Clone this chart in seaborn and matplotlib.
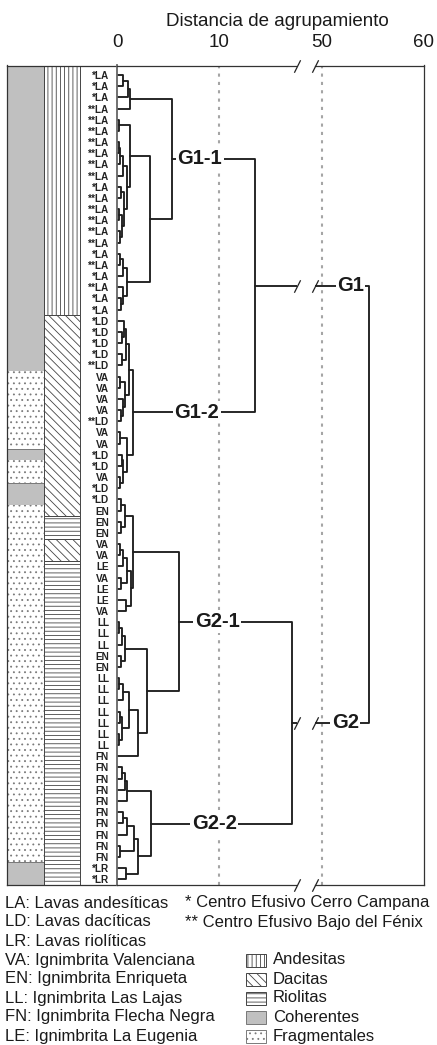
import matplotlib.pyplot as plt
import matplotlib.transforms as mtransforms
from matplotlib.patches import Rectangle
import pandas as pd
import seaborn as sns

# leaves, top to bottom
leaf_labels = ['*LA', '*LA', '*LA', '**LA', '**LA', '**LA', '**LA', '**LA', '**LA', '**LA',
               '*LA', '**LA', '**LA', '**LA', '**LA', '**LA', '*LA', '**LA', '*LA', '**LA',
               '*LA', '*LA', '*LD', '*LD', '*LD', '*LD', '**LD', 'VA', 'VA', 'VA',
               'VA', '**LD', 'VA', 'VA', '*LD', '*LD', 'VA', '*LD', '*LD', 'EN',
               'EN', 'EN', 'VA', 'VA', 'LE', 'VA', 'LE', 'LE', 'VA', 'LL',
               'LL', 'LL', 'EN', 'EN', 'LL', 'LL', 'LL', 'LL', 'LL', 'LL',
               'LL', 'FN', 'FN', 'FN', 'FN', 'FN', 'FN', 'FN', 'FN', 'FN',
               'FN', '*LR', '*LR']

# clusters as (first leaf, last leaf, distance)
clusters = [
    (0, 1, 0.6), (0, 2, 1.05), (0, 3, 1.27),
    (4, 5, 0.2), (6, 7, 0.15), (6, 8, 0.3), (6, 9, 0.6), (10, 11, 0.35), (12, 13, 0.2),
    (14, 15, 0.25), (12, 15, 0.45), (10, 15, 0.7), (6, 15, 0.95), (4, 15, 1.25),
    (16, 17, 0.3), (16, 18, 0.55), (20, 21, 0.4), (19, 21, 0.6), (16, 21, 0.95),
    (4, 21, 3.24), (0, 21, 5.35),
    (23, 24, 0.45), (22, 24, 0.7), (25, 26, 0.5), (22, 26, 0.9), (27, 28, 0.3),
    (30, 31, 0.35), (29, 31, 0.55), (27, 31, 0.75), (22, 31, 1.15),
    (32, 33, 0.3), (34, 35, 0.45), (36, 37, 0.3), (34, 37, 0.6), (32, 37, 0.92),
    (22, 37, 1.5),
    (0, 37, 13.5),
    (38, 39, 0.4), (40, 41, 0.35), (38, 41, 0.75), (42, 43, 0.25), (42, 44, 0.55),
    (45, 46, 0.4), (42, 46, 1.0), (47, 48, 0.85), (42, 48, 1.35), (38, 48, 1.57),
    (49, 50, 0.2), (49, 51, 0.45), (52, 53, 0.35), (49, 53, 0.8),
    (54, 55, 0.15), (54, 56, 0.55), (57, 58, 0.3), (59, 60, 0.15), (57, 60, 0.5),
    (54, 60, 1.15), (54, 61, 2.0), (49, 61, 2.9), (38, 61, 6.05),
    (62, 63, 0.43), (62, 64, 0.75), (62, 65, 0.92), (66, 67, 0.55), (66, 68, 0.95),
    (69, 70, 0.25), (66, 70, 1.6), (71, 72, 0.9), (66, 72, 2.05), (62, 72, 3.27),
    (38, 72, 17.1),
    (0, 72, 54.6),
]

group_names = ['G1-1', 'G1-2', 'G2-1', 'G2-2', 'G1', 'G2']
group_nodes = [(0, 21), (22, 37), (38, 61), (62, 72), (0, 37), (38, 72)]
group_label_x = [8.1, 7.8, 9.8, 9.5, 52.8, 52.3]

deposit_runs = [(0, 26, 'Coherentes'), (27, 33, 'Fragmentales'), (34, 34, 'Coherentes'),
                (35, 36, 'Fragmentales'), (37, 38, 'Coherentes'), (39, 70, 'Fragmentales'),
                (71, 72, 'Coherentes')]
litho_runs = [(0, 21, 'Andesitas'), (22, 39, 'Dacitas'), (40, 41, 'Riolitas'),
              (42, 43, 'Dacitas'), (44, 72, 'Riolitas')]

unit_legend = ['LA: Lavas andesíticas', 'LD: Lavas dacíticas', 'LR: Lavas riolíticas',
               'VA: Ignimbrita Valenciana', 'EN: Ignimbrita Enriqueta',
               'LL: Ignimbrita Las Lajas', 'FN: Ignimbrita Flecha Negra',
               'LE: Ignimbrita La Eugenia']
centro_legend = ['* Centro Efusivo Cerro Campana', '** Centro Efusivo Bajo del Fénix']
texture_legend = ['Andesitas', 'Dacitas', 'Riolitas', 'Coherentes', 'Fragmentales']

fill_style = {
    'Andesitas': dict(facecolor='white', hatch='||||', edgecolor='#444'),
    'Dacitas': dict(facecolor='white', hatch='\\\\\\\\', edgecolor='#444'),
    'Riolitas': dict(facecolor='white', hatch='----', edgecolor='#444'),
    'Coherentes': dict(facecolor='#c0c0c0', hatch=None, edgecolor='#777'),
    'Fragmentales': dict(facecolor='white', hatch='...', edgecolor='#7a7a7a'),
}

sns.set_theme(style='white')
plt.rcParams['font.family'] = ['Liberation Sans', 'DejaVu Sans']
plt.rcParams['hatch.linewidth'] = 0.6

n = len(leaf_labels)

# dendrogram geometry from the cluster list
height = {(k, k): 0.0 for k in range(n)}
height.update({(lo, hi): h for lo, hi, h in clusters})
ypos = {(k, k): float(k) for k in range(n)}
rows = []
for i, (lo, hi, h) in enumerate(sorted(clusters, key=lambda c: c[1] - c[0])):
    s = next(s for s in range(lo, hi) if (lo, s) in height and (s + 1, hi) in height)
    a, b = (lo, s), (s + 1, hi)
    ypos[(lo, hi)] = (ypos[a] + ypos[b]) / 2
    for j, (x, y) in enumerate([(height[a], ypos[a]), (h, ypos[a]),
                                (h, ypos[b]), (height[b], ypos[b])]):
        rows.append({'seg': i, 'order': j, 'x': x, 'y': y})
dendro = pd.DataFrame(rows)

W, H = 437, 1045
fig = plt.figure(figsize=(W / 100, H / 100), dpi=100)
top_px, bot_px = 65.5, 885
ylims = (72.52, -0.85)


def box(x0, x1):
    return [x0 / W, 1 - bot_px / H, (x1 - x0) / W, (bot_px - top_px) / H]


ax_bar = fig.add_axes(box(7, 117.3))
ax1 = fig.add_axes(box(117.3, 296.5))
ax2 = fig.add_axes(box(315, 424))

# texture columns
col_w = 36.5
for ci, runs in enumerate([deposit_runs, litho_runs]):
    for lo, hi, kind in runs:
        y0 = lo - 0.5 if lo > 0 else ylims[1]
        y1 = hi + 0.5 if hi < n - 1 else ylims[0]
        st = fill_style[kind]
        ax_bar.barh((y0 + y1) / 2, col_w, height=y1 - y0, left=ci * col_w,
                    facecolor=st['facecolor'], hatch=st['hatch'],
                    edgecolor=st['edgecolor'], linewidth=0.7 if ci == 1 or kind == 'Coherentes' else 0)
ax_bar.set_xlim(0, 110.3)
ax_bar.set_ylim(*ylims)
ax_bar.set_xticks([])
ax_bar.set_yticks([])
ax_bar.patch.set_visible(False)

for ax in (ax1, ax2):
    sns.lineplot(data=dendro, x='x', y='y', units='seg', estimator=None, sort=False,
                 color='#1e1e1e', linewidth=1.35, ax=ax, legend=False)
    ax.set_ylim(*ylims)
    ax.set_xlabel('')
    ax.set_ylabel('')
    ax.xaxis.tick_top()
    ax.tick_params(axis='x', length=0, pad=10.5, labelsize=13.5, colors='#1a1a1a')

ax1.set_xlim(0, 17.57)
ax2.set_xlim(49.34, 60)
ax1.set_xticks([0, 10])
ax2.set_xticks([50, 60])
ax1.axvline(10, color='#a5a5a5', lw=1.5, ls=(0, (1.5, 2.5)), zorder=0.5)
ax2.axvline(50, color='#a5a5a5', lw=1.5, ls=(0, (1.5, 2.5)), zorder=0.5)

ax1.set_yticks(range(n))
ax1.set_yticklabels(leaf_labels, fontweight='bold', color='#222')
ax1.tick_params(axis='y', length=0, pad=6.0, labelsize=7.2)
ax2.set_yticks([])

for spine in ['top', 'bottom', 'left']:
    ax_bar.spines[spine].set_color('#333')
    ax_bar.spines[spine].set_linewidth(0.9)
ax_bar.spines['right'].set_visible(False)
ax1.spines['right'].set_visible(False)
ax2.spines['left'].set_visible(False)
for ax in (ax1, ax2):
    for spine in ['top', 'bottom', 'left', 'right']:
        ax.spines[spine].set_color('#333')
        ax.spines[spine].set_linewidth(0.9)
ax1.spines['left'].set_color('#666')
ax1.spines['left'].set_linewidth(1.3)

# group labels on the branches
for name, node, gx in zip(group_names, group_nodes, group_label_x):
    ax = ax1 if gx < 20 else ax2
    ax.text(gx, ypos[node], name, ha='center', va='center', fontsize=14.5,
            fontweight='bold', color='#1a1a1a', zorder=5,
            bbox=dict(facecolor='white', edgecolor='none', pad=1.0))

# break marks
slash = [(-0.5, -1), (0.5, 1)]
for ax, xa in ((ax1, 1), (ax2, 0)):
    t_ax = ax.transAxes
    t_mix = mtransforms.blended_transform_factory(ax.transAxes, ax.transData)
    for yy, tr in ((0, t_ax), (1, t_ax), (ypos[(0, 37)], t_mix), (ypos[(38, 72)], t_mix)):
        ax.plot([xa], [yy], transform=tr, marker=slash, ms=9, mew=0.9,
                color='#222', ls='none', clip_on=False, zorder=6)

# title and legends in pixel coordinates
ov = fig.add_axes([0, 0, 1, 1])
ov.set_xlim(0, W)
ov.set_ylim(H, 0)
ov.axis('off')
ov.text(277, 22, 'Distancia de agrupamiento', ha='center', va='center',
        fontsize=13.5, color='#1a1a1a')
for i, txt in enumerate(unit_legend):
    ov.text(5, 903 + 19 * i, txt, ha='left', va='center', fontsize=12, color='#1a1a1a')
for i, txt in enumerate(centro_legend):
    ov.text(185, 903 + 19 * i, txt, ha='left', va='center', fontsize=12, color='#1a1a1a')
for i, kind in enumerate(texture_legend):
    yc = 960 + 19 * i
    st = fill_style[kind]
    ov.add_patch(Rectangle((246, yc - 6.5), 20, 13, facecolor=st['facecolor'],
                           hatch=st['hatch'], edgecolor=st['edgecolor'], linewidth=0.7))
    ov.text(273, yc, kind, ha='left', va='center', fontsize=12, color='#1a1a1a')

fig.savefig('out.png', dpi=100)
